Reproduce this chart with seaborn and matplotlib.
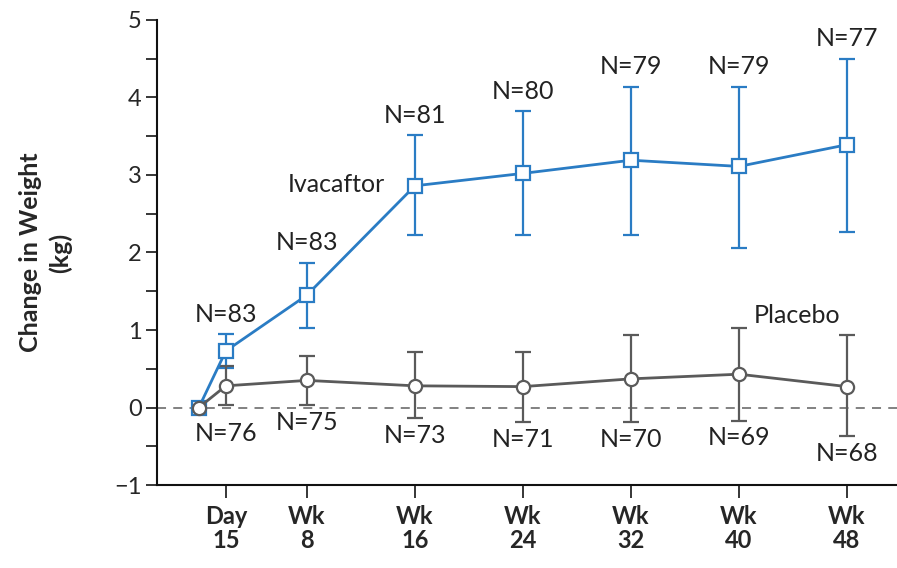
import matplotlib
matplotlib.use("Agg")
import matplotlib.pyplot as plt
import seaborn as sns
import pandas as pd
import numpy as np

# Study visit times (weeks from baseline)
weeks = [0, 2, 8, 16, 24, 32, 40, 48]
tick_weeks = [2, 8, 16, 24, 32, 40, 48]
tick_labels = ["Day\n15", "Wk\n8", "Wk\n16", "Wk\n24", "Wk\n32", "Wk\n40", "Wk\n48"]

# Ivacaftor: mean change and 95% CI bounds
iva_mean = [0.0, 0.73, 1.45, 2.86, 3.02, 3.19, 3.11, 3.39]
iva_low = [np.nan, 0.51, 1.03, 2.22, 2.22, 2.23, 2.06, 2.27]
iva_high = [np.nan, 0.95, 1.87, 3.51, 3.82, 4.14, 4.14, 4.50]
iva_n = [None, 83, 83, 81, 80, 79, 79, 77]

# Placebo: mean change and 95% CI bounds
pla_mean = [0.0, 0.28, 0.35, 0.28, 0.27, 0.37, 0.43, 0.27]
pla_low = [np.nan, 0.03, 0.03, -0.14, -0.19, -0.19, -0.17, -0.37]
pla_high = [np.nan, 0.53, 0.67, 0.71, 0.71, 0.94, 1.02, 0.94]
pla_n = [None, 76, 75, 73, 71, 70, 69, 68]

BLUE = "#2a7cc4"
GRAY = "#5a5a5a"

sns.set_style("ticks")
plt.rcParams["font.family"] = ["Lato", "DejaVu Sans"]

df = pd.DataFrame({
    "week": weeks * 2,
    "change": iva_mean + pla_mean,
    "group": ["Ivacaftor"] * len(weeks) + ["Placebo"] * len(weeks),
})

fig = plt.figure(figsize=(8.97, 5.68), dpi=100)
ax = fig.add_axes([0.175, 0.146, 0.825, 0.819])

ax.axhline(0, color="#777777", lw=1.3, ls=(0, (5, 4)), zorder=1)

for grp, color, marker, low, high, mean in [
    ("Ivacaftor", BLUE, "s", iva_low, iva_high, iva_mean),
    ("Placebo", GRAY, "o", pla_low, pla_high, pla_mean),
]:
    m = np.array(mean)
    lo = np.array(low)
    hi = np.array(high)
    ok = ~np.isnan(lo)
    ax.errorbar(np.array(weeks)[ok], m[ok], yerr=[m[ok] - lo[ok], hi[ok] - m[ok]],
                fmt="none", ecolor=color, elinewidth=1.6, capsize=5.5, capthick=1.6,
                zorder=2)
    sns.lineplot(data=df[df.group == grp], x="week", y="change", ax=ax,
                 color=color, marker=marker, markersize=9.5, markerfacecolor="white",
                 markeredgecolor=color, markeredgewidth=1.6, lw=2.0,
                 legend=False, zorder=3 if grp == "Ivacaftor" else 4)

fs = 18
# Sample sizes above ivacaftor bars, below placebo bars
for w, hi, n in zip(weeks, iva_high, iva_n):
    if n is None:
        continue
    ax.annotate(f"N={n}", (w, hi), xytext=(0, 6), textcoords="offset points",
                ha="center", va="bottom", fontsize=fs, color="#222222")
for w, lo, n in zip(weeks, pla_low, pla_n):
    if n is None:
        continue
    dy = -12 if w == 2 else -4
    ax.annotate(f"N={n}", (w, lo), xytext=(0, dy), textcoords="offset points",
                ha="center", va="top", fontsize=fs, color="#222222")

ax.text(10.2, 2.88, "Ivacaftor", ha="center", va="center", fontsize=fs, color="#222222")
ax.text(44.3, 1.19, "Placebo", ha="center", va="center", fontsize=fs, color="#222222")

ax.set_xlim(-3.1, 51.7)
ax.set_ylim(-1, 5)
ax.set_yticks(range(-1, 6))
ax.set_yticklabels(["\u22121", "0", "1", "2", "3", "4", "5"], fontsize=17)
ax.set_yticks(np.arange(-0.5, 5, 1), minor=True)
ax.set_xticks(tick_weeks)
ax.set_xticklabels(tick_labels, fontsize=17, fontweight="bold", linespacing=1.1)
ax.tick_params(axis="y", which="both", length=8, width=1.3, direction="out", pad=3)
ax.tick_params(axis="x", length=9, width=1.3, direction="out", pad=5)
ax.set_xlabel("")
ax.set_ylabel("Change in Weight\n(kg)", fontsize=18, fontweight="bold", labelpad=30,
              linespacing=1.35)

sns.despine(ax=ax, top=True, right=True)
for s in ["left", "bottom"]:
    ax.spines[s].set_linewidth(1.5)
    ax.spines[s].set_color("#111111")

fig.savefig("out.png", dpi=100)
